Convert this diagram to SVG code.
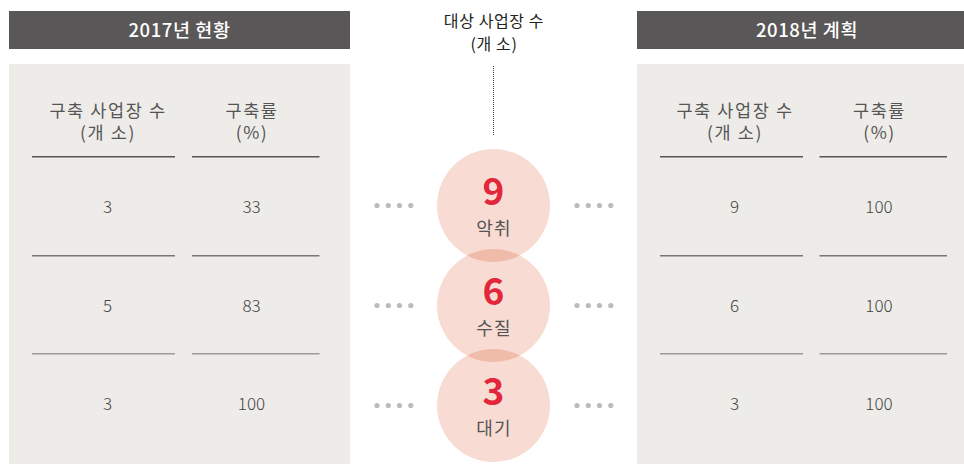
<svg xmlns="http://www.w3.org/2000/svg" width="964" height="464" viewBox="0 0 964 464">
<style>
text{font-family:"Noto Sans CJK KR","Noto Sans",sans-serif;text-anchor:middle}
.bar{fill:#5a5758}
.panel{fill:#eeece8}
.bt{fill:#ffffff;font-size:18.5px;font-weight:500;letter-spacing:0.6px}
.th{fill:#555;font-size:17.5px;letter-spacing:1.6px}
.tv{fill:#444;font-size:17px;font-weight:300}
.l1{stroke:#555;stroke-width:1.5}
.l2{stroke:#777;stroke-width:1.5}
.l3{stroke:#9a9a9a;stroke-width:1.5}
.mt{fill:#222;font-size:16px;letter-spacing:0.6px}
.circ{fill:#f8dcd3}
.ov{fill:#f0bcaa}
.num{fill:#e2263b;font-size:37px;font-weight:700}
.lab{fill:#555;font-size:18px;letter-spacing:1.2px}
.dot{fill:#bbbbbb}
</style>
<defs>
<clipPath id="c1"><circle cx="493.5" cy="205.5" r="56.5"/></clipPath>
<clipPath id="c2"><circle cx="493.5" cy="305.5" r="56.5"/></clipPath>
</defs>
<g id="left-2017">
<rect class="bar" x="9" y="11" width="341" height="38"/>
<text class="bt" x="179.5" y="37">2017년 현황</text>
<rect class="panel" x="9" y="64" width="341" height="400"/>
<text class="th" x="108" y="116.5">구축 사업장 수</text>
<text class="th" x="108" y="138.5">(개 소)</text>
<text class="th" x="252" y="116.5">구축률</text>
<text class="th" x="252" y="138.5">(%)</text>
<line class="l1" x1="32" y1="156.75" x2="175" y2="156.75"/>
<line class="l1" x1="192" y1="156.75" x2="319.5" y2="156.75"/>
<text class="tv" x="107.5" y="213">3</text>
<text class="tv" x="251.5" y="213">33</text>
<line class="l2" x1="32" y1="255.75" x2="175" y2="255.75"/>
<line class="l2" x1="192" y1="255.75" x2="319.5" y2="255.75"/>
<text class="tv" x="107.5" y="312">5</text>
<text class="tv" x="251.5" y="312">83</text>
<line class="l3" x1="32" y1="353.75" x2="175" y2="353.75"/>
<line class="l3" x1="192" y1="353.75" x2="319.5" y2="353.75"/>
<text class="tv" x="107.5" y="410">3</text>
<text class="tv" x="251.5" y="410">100</text>
</g>
<g id="right-2018">
<rect class="bar" x="637" y="11" width="340" height="38"/>
<text class="bt" x="807" y="37">2018년 계획</text>
<rect class="panel" x="637" y="64" width="340" height="400"/>
<text class="th" x="735" y="116.5">구축 사업장 수</text>
<text class="th" x="735" y="138.5">(개 소)</text>
<text class="th" x="879.5" y="116.5">구축률</text>
<text class="th" x="879.5" y="138.5">(%)</text>
<line class="l1" x1="660" y1="156.75" x2="803" y2="156.75"/>
<line class="l1" x1="819.5" y1="156.75" x2="947" y2="156.75"/>
<text class="tv" x="734.5" y="213">9</text>
<text class="tv" x="879" y="213">100</text>
<line class="l2" x1="660" y1="255.75" x2="803" y2="255.75"/>
<line class="l2" x1="819.5" y1="255.75" x2="947" y2="255.75"/>
<text class="tv" x="734.5" y="312">6</text>
<text class="tv" x="879" y="312">100</text>
<line class="l3" x1="660" y1="353.75" x2="803" y2="353.75"/>
<line class="l3" x1="819.5" y1="353.75" x2="947" y2="353.75"/>
<text class="tv" x="734.5" y="410">3</text>
<text class="tv" x="879" y="410">100</text>
</g>
<g id="middle-title">
<text class="mt" x="494" y="27">대상 사업장 수</text>
<text class="mt" x="494" y="50">(개 소)</text>
</g>
<g id="connectors">
<line x1="493.5" y1="66" x2="493.5" y2="136" stroke="#444" stroke-width="1" stroke-dasharray="1 1"/>
<g class="dot">
<circle cx="377" cy="205.5" r="2.6"/><circle cx="388.3" cy="205.5" r="2.6"/><circle cx="399.5" cy="205.5" r="2.6"/><circle cx="410.8" cy="205.5" r="2.6"/>
<circle cx="577" cy="205.5" r="2.6"/><circle cx="588.3" cy="205.5" r="2.6"/><circle cx="599.5" cy="205.5" r="2.6"/><circle cx="610.8" cy="205.5" r="2.6"/>
<circle cx="377" cy="305.5" r="2.6"/><circle cx="388.3" cy="305.5" r="2.6"/><circle cx="399.5" cy="305.5" r="2.6"/><circle cx="410.8" cy="305.5" r="2.6"/>
<circle cx="577" cy="305.5" r="2.6"/><circle cx="588.3" cy="305.5" r="2.6"/><circle cx="599.5" cy="305.5" r="2.6"/><circle cx="610.8" cy="305.5" r="2.6"/>
<circle cx="377" cy="405.5" r="2.6"/><circle cx="388.3" cy="405.5" r="2.6"/><circle cx="399.5" cy="405.5" r="2.6"/><circle cx="410.8" cy="405.5" r="2.6"/>
<circle cx="577" cy="405.5" r="2.6"/><circle cx="588.3" cy="405.5" r="2.6"/><circle cx="599.5" cy="405.5" r="2.6"/><circle cx="610.8" cy="405.5" r="2.6"/>
</g>
</g>
<g id="circles">
<circle class="circ" cx="493.5" cy="205.5" r="56.5"/>
<circle class="circ" cx="493.5" cy="305.5" r="56.5"/>
<circle class="circ" cx="493.5" cy="405.5" r="56.5"/>
<circle class="ov" cx="493.5" cy="305.5" r="56.5" clip-path="url(#c1)"/>
<circle class="ov" cx="493.5" cy="405.5" r="56.5" clip-path="url(#c2)"/>
</g>
<g id="node-odor">
<text class="num" x="493.5" y="205">9</text>
<text class="lab" x="494" y="235">악취</text>
</g>
<g id="node-water">
<text class="num" x="493.5" y="305">6</text>
<text class="lab" x="494" y="335">수질</text>
</g>
<g id="node-air">
<text class="num" x="493.5" y="405">3</text>
<text class="lab" x="494" y="435">대기</text>
</g>
</svg>
